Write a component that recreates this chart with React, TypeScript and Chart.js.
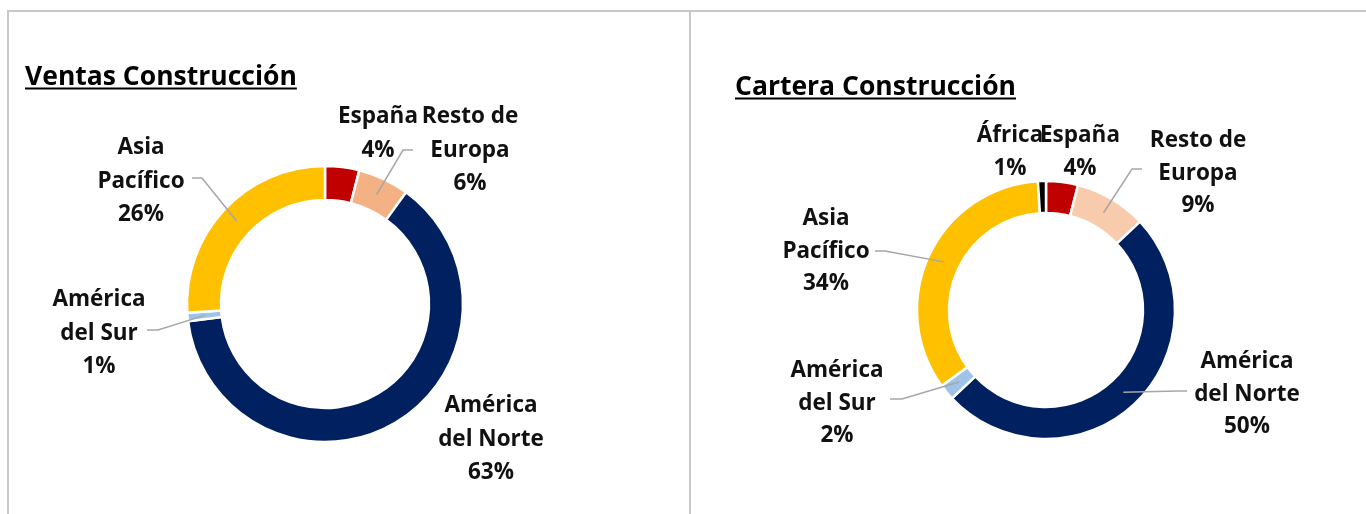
import React, { useEffect, useRef } from "react";
import { Chart, registerables } from "chart.js";

Chart.register(...registerables);

// ---------- DATA ----------
const ventasTitle = "Ventas Construcción";
const ventasCategories = ["España", "Resto de Europa", "América del Norte", "América del Sur", "Asia Pacífico"];
const ventasLabelLines = [["España"], ["Resto de", "Europa"], ["América", "del Norte"], ["América", "del Sur"], ["Asia", "Pacífico"]];
const ventasValues = [4, 6, 63, 1, 26];

const carteraTitle = "Cartera Construcción";
const carteraCategories = ["España", "Resto de Europa", "América del Norte", "América del Sur", "Asia Pacífico", "África"];
const carteraLabelLines = [["España"], ["Resto de", "Europa"], ["América", "del Norte"], ["América", "del Sur"], ["Asia", "Pacífico"], ["África"]];
const carteraValues = [4, 9, 50, 2, 34, 1];

// ---------- STYLE / LAYOUT ----------
const FONT = '"Open Sans", "DejaVu Sans", sans-serif';
const LEADER = "#A6A6A6";

type LabelPos = { dx: number; base: number; elbow?: [number, number]; end?: [number, number] };

const ventasColors = ["#C00000", "#F4B183", "#002060", "#9DC3E6", "#FFC000"];
const carteraColors = ["#C00000", "#F8CBAD", "#002060", "#9DC3E6", "#FFC000", "#000000"];

const ventasLabelPos: LabelPos[] = [
  { dx: 53, base: -181 },
  { dx: 145, base: -181, elbow: [78, -154], end: [88, -154] },
  { dx: 166, base: 108 },
  { dx: -226, base: 2, elbow: [-167, 26], end: [-178, 26] },
  { dx: -184, base: -150, elbow: [-123, -126], end: [-133, -126] },
];

const carteraLabelPos: LabelPos[] = [
  { dx: 34, base: -168 },
  { dx: 152, base: -163, elbow: [86, -141], end: [96, -141] },
  { dx: 201, base: 58, elbow: [131, 81], end: [141, 81] },
  { dx: -209, base: 67, elbow: [-144, 89], end: [-156, 89] },
  { dx: -220, base: -85, elbow: [-161, -59], end: [-171, -59] },
  { dx: -36, base: -168 },
];

type PanelCfg = {
  width: number;
  height: number;
  cx: number;
  cy: number;
  radius: number;
  inner: number;
  title: string;
  titleX: number;
  titleBase: number;
  titleUnder: number;
  lineH: number;
  labelPos: LabelPos[];
};

const labelPlugin = {
  id: "excelLabels",
  afterDraw(chart: any, _args: any, opts: any) {
    const cfg: PanelCfg = opts.cfg;
    const lines: string[][] = opts.lines;
    const ctx: CanvasRenderingContext2D = chart.ctx;
    const meta = chart.getDatasetMeta(0);
    const total = (chart.data.datasets[0].data as number[]).reduce((a, b) => a + b, 0);
    ctx.save();
    // title
    ctx.fillStyle = "#000";
    ctx.font = `bold 26.5px ${FONT}`;
    ctx.textAlign = "left";
    ctx.textBaseline = "alphabetic";
    ctx.fillText(cfg.title, cfg.titleX, cfg.titleBase);
    const tw = ctx.measureText(cfg.title).width;
    ctx.fillRect(cfg.titleX, cfg.titleUnder, tw, 2);

    meta.data.forEach((arc: any, i: number) => {
      const p = arc.getProps(["x", "y", "startAngle", "endAngle", "innerRadius", "outerRadius"], true);
      const mid = (p.startAngle + p.endAngle) / 2;
      const r = (p.innerRadius + p.outerRadius) / 2;
      const ax = p.x + Math.cos(mid) * r;
      const ay = p.y + Math.sin(mid) * r;
      const lp = cfg.labelPos[i];
      if (lp.elbow && lp.end) {
        ctx.strokeStyle = LEADER;
        ctx.lineWidth = 1.5;
        ctx.beginPath();
        ctx.moveTo(ax, ay);
        ctx.lineTo(p.x + lp.elbow[0], p.y + lp.elbow[1]);
        ctx.lineTo(p.x + lp.end[0], p.y + lp.end[1]);
        ctx.stroke();
      }
      const v = chart.data.datasets[0].data[i] as number;
      const txt = [...lines[i], `${Math.round((v / total) * 100)}%`];
      ctx.fillStyle = "#111";
      ctx.font = `bold 22.5px ${FONT}`;
      ctx.textAlign = "center";
      txt.forEach((t, k) => {
        ctx.fillText(t, p.x + lp.dx, p.y + lp.base + k * cfg.lineH);
      });
    });
    ctx.restore();
  },
};

function Donut({ cfg, categories, values, colors, lines }: { cfg: PanelCfg; categories: string[]; values: number[]; colors: string[]; lines: string[][] }) {
  const ref = useRef<HTMLCanvasElement | null>(null);
  useEffect(() => {
    if (!ref.current) return;
    const R = cfg.radius + 1;
    const chart = new Chart(ref.current, {
      type: "doughnut",
      data: {
        labels: categories,
        datasets: [
          {
            data: values,
            backgroundColor: colors,
            borderColor: "#FFFFFF",
            borderWidth: 2.5,
          },
        ],
      },
      options: {
        responsive: false,
        animation: false,
        devicePixelRatio: 1,
        radius: R,
        cutout: `${((cfg.inner - 1) / R) * 100}%`,
        layout: {
          padding: {
            left: cfg.cx - R,
            right: cfg.width - cfg.cx - R,
            top: cfg.cy - R,
            bottom: cfg.height - cfg.cy - R,
          },
        },
        plugins: {
          legend: { display: false },
          tooltip: { enabled: false },
          excelLabels: { cfg, lines },
        } as any,
      } as any,
      plugins: [labelPlugin],
    });
    return () => chart.destroy();
  }, []);
  return <canvas ref={ref} width={cfg.width} height={cfg.height} style={{ display: "block" }} />;
}

const leftCfg: PanelCfg = {
  width: 690,
  height: 514,
  cx: 325,
  cy: 304,
  radius: 137,
  inner: 105,
  title: ventasTitle,
  titleX: 25,
  titleBase: 85,
  titleUnder: 87.5,
  lineH: 33.5,
  labelPos: ventasLabelPos,
};

const rightCfg: PanelCfg = {
  width: 676,
  height: 514,
  cx: 356,
  cy: 310,
  radius: 128,
  inner: 98,
  title: carteraTitle,
  titleX: 45,
  titleBase: 95,
  titleUnder: 97.5,
  lineH: 32.5,
  labelPos: carteraLabelPos,
};

export default function App() {
  const border = "#C8C8C8";
  return (
    <div style={{ position: "fixed", left: 0, top: 0, width: 1366, height: 514, background: "#fff", overflow: "hidden" }}>
      <div style={{ position: "absolute", left: 0, top: 0 }}>
        <Donut cfg={leftCfg} categories={ventasCategories} values={ventasValues} colors={ventasColors} lines={ventasLabelLines} />
      </div>
      <div style={{ position: "absolute", left: 690, top: 0 }}>
        <Donut cfg={rightCfg} categories={carteraCategories} values={carteraValues} colors={carteraColors} lines={carteraLabelLines} />
      </div>
      <div style={{ position: "absolute", left: 7, top: 10, width: 1359, height: 2, background: border }} />
      <div style={{ position: "absolute", left: 7, top: 10, width: 2, height: 504, background: border }} />
      <div style={{ position: "absolute", left: 689, top: 10, width: 2, height: 504, background: border }} />
    </div>
  );
}
